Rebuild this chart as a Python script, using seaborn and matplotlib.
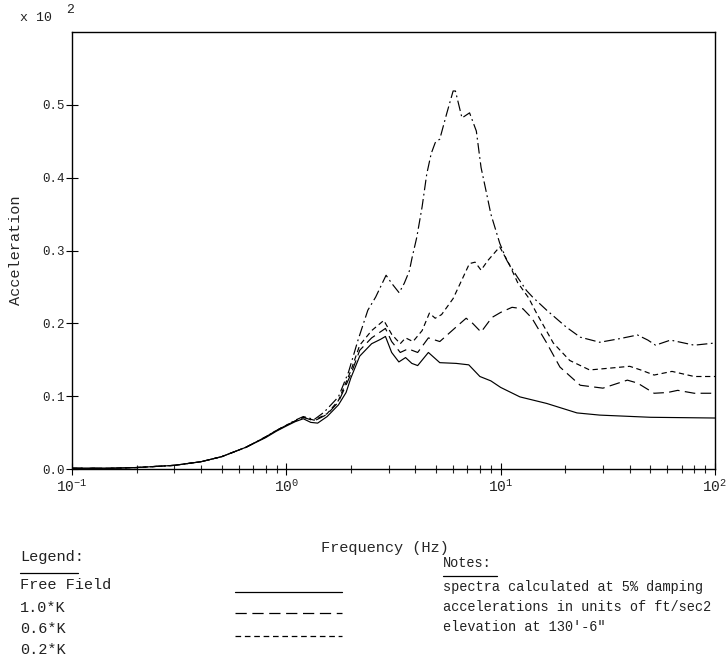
import matplotlib
matplotlib.use("Agg")
import matplotlib.pyplot as plt
import seaborn as sns
import pandas as pd
from matplotlib.lines import Line2D

# ---------------- data ----------------
series_names = ["Free Field", "1.0*K", "0.6*K", "0.2*K"]

ff_freq = [0.1, 0.15, 0.2, 0.3, 0.4, 0.5, 0.65, 0.8, 0.9, 1.0, 1.1, 1.2, 1.3, 1.4,
           1.55, 1.75, 1.9, 2.0, 2.2, 2.5, 2.75, 2.9, 3.1, 3.35, 3.6, 3.85, 4.1,
           4.6, 5.2, 6.2, 7.1, 8.0, 9.0, 10.0, 12.3, 16.4, 22.7, 29.0, 50.0, 100.0]
ff_acc = [0.001, 0.001, 0.002, 0.005, 0.010, 0.017, 0.030, 0.043, 0.052, 0.059,
          0.065, 0.069, 0.064, 0.063, 0.072, 0.088, 0.105, 0.125, 0.155, 0.172,
          0.178, 0.182, 0.160, 0.147, 0.153, 0.145, 0.142, 0.160, 0.146, 0.145,
          0.143, 0.127, 0.121, 0.112, 0.099, 0.090, 0.077, 0.074, 0.071, 0.070]

k10_freq = [0.1, 0.15, 0.2, 0.3, 0.4, 0.5, 0.65, 0.8, 0.9, 1.0, 1.1, 1.2, 1.35,
            1.55, 1.75, 2.0, 2.2, 2.5, 2.9, 3.1, 3.4, 3.7, 4.1, 4.6, 5.2, 6.2,
            6.9, 7.4, 8.1, 9.1, 10.0, 11.3, 12.7, 14.0, 16.4, 18.9, 23.5, 30.0,
            39.0, 43.5, 52.0, 60.0, 67.0, 80.0, 100.0]
k10_acc = [0.001, 0.001, 0.002, 0.005, 0.010, 0.017, 0.030, 0.044, 0.053, 0.060,
           0.066, 0.071, 0.066, 0.075, 0.092, 0.130, 0.163, 0.180, 0.193, 0.175,
           0.160, 0.165, 0.160, 0.180, 0.175, 0.195, 0.207, 0.200, 0.188, 0.208,
           0.215, 0.222, 0.220, 0.207, 0.173, 0.140, 0.115, 0.111, 0.122, 0.118,
           0.104, 0.105, 0.108, 0.104, 0.104]

k06_freq = [0.1, 0.15, 0.2, 0.3, 0.4, 0.5, 0.65, 0.8, 0.9, 1.0, 1.1, 1.2, 1.35,
            1.55, 1.75, 2.0, 2.2, 2.5, 2.85, 3.1, 3.4, 3.6, 3.9, 4.3, 4.65, 4.95,
            5.3, 6.0, 6.6, 7.15, 7.6, 8.1, 8.7, 9.9, 11.0, 12.0, 13.5, 14.7, 17.6,
            21.0, 26.0, 31.0, 40.0, 45.0, 52.0, 63.0, 80.0, 100.0]
k06_acc = [0.001, 0.001, 0.002, 0.005, 0.010, 0.017, 0.030, 0.044, 0.053, 0.060,
           0.066, 0.071, 0.067, 0.076, 0.094, 0.135, 0.170, 0.190, 0.204, 0.185,
           0.172, 0.180, 0.175, 0.190, 0.214, 0.207, 0.212, 0.234, 0.260, 0.282,
           0.284, 0.273, 0.286, 0.305, 0.280, 0.256, 0.235, 0.214, 0.173, 0.149,
           0.136, 0.138, 0.141, 0.136, 0.129, 0.134, 0.127, 0.127]

k02_freq = [0.1, 0.15, 0.2, 0.3, 0.4, 0.5, 0.65, 0.8, 0.9, 1.0, 1.1, 1.2, 1.35,
            1.5, 1.75, 1.95, 2.16, 2.4, 2.61, 2.92, 3.1, 3.36, 3.55, 3.75, 3.86,
            4.06, 4.3, 4.52, 4.74, 4.95, 5.2, 5.6, 6.0, 6.15, 6.6, 7.16, 7.7, 8.1,
            8.6, 9.0, 9.9, 10.7, 12.0, 13.2, 14.1, 16.4, 20.2, 23.5, 29.0, 36.0,
            43.5, 48.6, 52.8, 62.0, 80.0, 100.0]
k02_acc = [0.001, 0.001, 0.002, 0.005, 0.010, 0.017, 0.030, 0.044, 0.053, 0.060,
           0.067, 0.072, 0.068, 0.078, 0.099, 0.133, 0.177, 0.218, 0.236, 0.266,
           0.255, 0.242, 0.255, 0.272, 0.290, 0.318, 0.360, 0.405, 0.433, 0.448,
           0.453, 0.488, 0.519, 0.519, 0.482, 0.489, 0.464, 0.414, 0.378, 0.350,
           0.310, 0.286, 0.263, 0.245, 0.236, 0.218, 0.195, 0.181, 0.174, 0.179,
           0.184, 0.177, 0.170, 0.177, 0.170, 0.173]

x_ticks = [0.1, 1.0, 10.0, 100.0]
x_tick_labels = [r"$10^{-1}$", r"$10^{0}$", r"$10^{1}$", r"$10^{2}$"]
y_ticks = [0.0, 0.1, 0.2, 0.3, 0.4, 0.5]
y_tick_labels = ["0.0", "0.1", "0.2", "0.3", "0.4", "0.5"]

legend_title = "Legend:"
notes_title = "Notes:"
notes_lines = ["spectra calculated at 5% damping",
               "accelerations in units of ft/sec2",
               "elevation at 130'-6\""]

# ---------------- build table ----------------
frames = []
for name, f, a in zip(series_names,
                      [ff_freq, k10_freq, k06_freq, k02_freq],
                      [ff_acc, k10_acc, k06_acc, k02_acc]):
    frames.append(pd.DataFrame({"Frequency": f, "Acceleration": a, "series": name}))
df = pd.concat(frames, ignore_index=True)

# ---------------- style ----------------
sns.set_style("ticks")
FONT = ["Liberation Mono", "DejaVu Sans Mono"]
plt.rcParams["font.family"] = FONT
plt.rcParams["mathtext.fontset"] = "custom"
plt.rcParams["mathtext.rm"] = "Liberation Mono"
plt.rcParams["mathtext.it"] = "Liberation Mono"
plt.rcParams["text.color"] = "#222222"

W, H = 728, 657
fig = plt.figure(figsize=(W / 100, H / 100), dpi=100)

def fx(px):
    return px / W

def fy(py):
    return 1 - py / H

ax_l, ax_r, ax_t, ax_b = 72, 715, 32, 469
ax = fig.add_axes([fx(ax_l), fy(ax_b), (ax_r - ax_l) / W, (ax_b - ax_t) / H])

dashes = {"Free Field": "", "1.0*K": (9, 4.5), "0.6*K": (4.5, 3), "0.2*K": (9, 3, 1.5, 3)}
palette = {n: "black" for n in series_names}
sns.lineplot(data=df, x="Frequency", y="Acceleration", hue="series", style="series",
             palette=palette, dashes=dashes, linewidth=0.85, legend=False,
             estimator=None, ax=ax)

ax.set_xscale("log")
ax.set_xlim(0.1, 100)
ax.set_ylim(0, 0.6)
ax.set_xticks(x_ticks)
ax.set_xticklabels(x_tick_labels)
ax.xaxis.set_minor_locator(matplotlib.ticker.LogLocator(base=10, subs=range(2, 10)))
ax.xaxis.set_minor_formatter(matplotlib.ticker.NullFormatter())
ax.set_yticks(y_ticks)
ax.set_yticklabels(y_tick_labels)
ax.tick_params(axis="both", which="major", direction="inout", length=8, width=0.8,
               labelsize=9, pad=1, colors="black", labelcolor="#222222")
ax.tick_params(axis="x", which="minor", direction="inout", length=6, width=0.8)
ax.tick_params(axis="x", which="major", pad=3, labelsize=10.5)
for s in ax.spines.values():
    s.set_visible(True)
    s.set_linewidth(1.0)
    s.set_color("black")

ax.set_xlabel("Frequency (Hz)", fontsize=11)
ax.set_ylabel("Acceleration", fontsize=11)
ax.xaxis.set_label_coords((385 - ax_l) / (ax_r - ax_l), (ax_b - 548) / (ax_b - ax_t))
ax.yaxis.set_label_coords((16 - ax_l) / (ax_r - ax_l), 0.5)
ax.xaxis.label.set_va("center")
ax.yaxis.label.set_va("center")

# multiplier text
fig.text(fx(20), fy(18), "x 10", fontsize=9.5, va="center", ha="left")
fig.text(fx(66), fy(10), "2", fontsize=9.5, va="center", ha="left")

# legend block
fs = 11
fig.text(fx(20), fy(557), legend_title, fontsize=fs, va="center")
fig.add_artist(Line2D([fx(20), fx(78)], [fy(573), fy(573)], color="black", lw=0.9))
rows_y = [585, 608, 629, 650]
for name, yy in zip(series_names, rows_y):
    fig.text(fx(20), fy(yy), name, fontsize=fs, va="center")
sample_y = [592, 613, 636]
for name, yy in zip(series_names[:3], sample_y):
    ln = Line2D([fx(235), fx(342)], [fy(yy), fy(yy)], color="black", lw=0.9)
    if dashes[name]:
        ln.set_dashes(dashes[name])
    fig.add_artist(ln)

# notes block
nfs = 9.8
fig.text(fx(443), fy(563), notes_title, fontsize=nfs, va="center")
fig.add_artist(Line2D([fx(443), fx(497)], [fy(576), fy(576)], color="black", lw=0.9))
for line, yy in zip(notes_lines, [587, 607, 627]):
    fig.text(fx(443), fy(yy), line, fontsize=nfs, va="center")

fig.savefig("out.png", dpi=100)
